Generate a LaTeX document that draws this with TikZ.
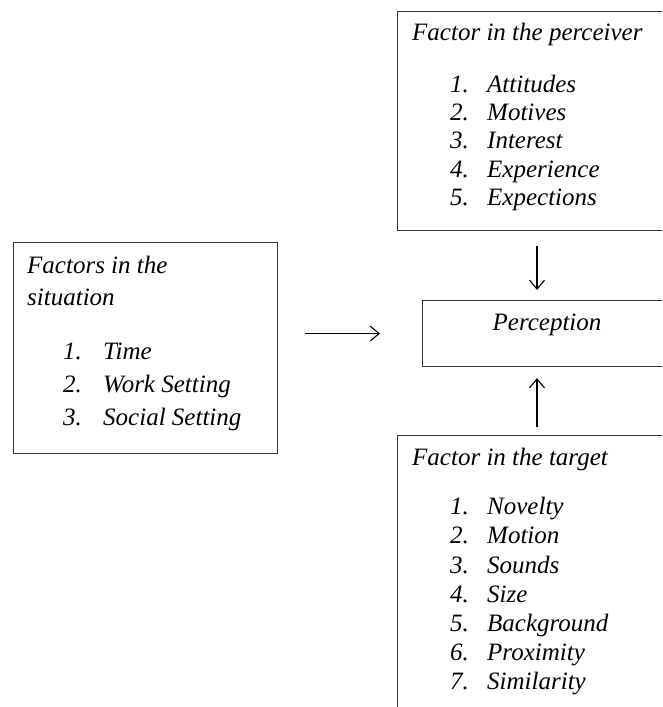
\documentclass[tikz,border=0pt]{standalone}
\usepackage{fontspec}
\setmainfont{Liberation Serif}
\usetikzlibrary{arrows.meta}
\begin{document}
\begin{tikzpicture}[x=1pt,y=-1pt,
  box/.style={draw=black!80,line width=1.1pt,rectangle,anchor=north west,inner sep=0pt},
  txt/.style={anchor=base west,inner sep=0pt,font=\fontsize{25}{29}\selectfont\itshape},
  arr/.style={draw=black,line width=1.1pt,-{Straight Barb[length=9pt,width=15pt,line width=1.1pt]}}]
\useasboundingbox (0,0) rectangle (662,707);
\clip (0,0) rectangle (662,707);
% boxes
\node[box,minimum width=290pt,minimum height=219pt] (perceiver) at (397,11) {};
\node[box,minimum width=264pt,minimum height=211pt] (situation) at (13,242) {};
\node[box,minimum width=260pt,minimum height=66pt] (perception) at (422,300) {};
\node[box,minimum width=290pt,minimum height=300pt] (target) at (397,435) {};
% perceiver text
\node[txt] (p0) at (412,40) {Factor in the perceiver};
\node[txt] (p1n) at (450,92) {1.}; \node[txt] (p1) at (487,92) {Attitudes};
\node[txt] (p2n) at (450,120) {2.}; \node[txt] (p2) at (487,120) {Motives};
\node[txt] (p3n) at (450,148) {3.}; \node[txt] (p3) at (487,148) {Interest};
\node[txt] (p4n) at (450,177) {4.}; \node[txt] (p4) at (487,177) {Experience};
\node[txt] (p5n) at (450,205) {5.}; \node[txt] (p5) at (487,205) {Expections};
% situation text
\node[txt] (s0) at (27,273) {Factors in the};
\node[txt] (s0b) at (27,305) {situation};
\node[txt] (s1n) at (63,359) {1.}; \node[txt] (s1) at (103,359) {Time};
\node[txt] (s2n) at (63,392) {2.}; \node[txt] (s2) at (103,392) {Work Setting};
\node[txt] (s3n) at (63,425) {3.}; \node[txt] (s3) at (103,425) {Social Setting};
% perception text
\node[txt,anchor=base] (pc) at (547,330) {Perception};
% target text
\node[txt] (t0) at (412,465) {Factor in the target};
\node[txt] (t1n) at (450,514) {1.}; \node[txt] (t1) at (487,514) {Novelty};
\node[txt] (t2n) at (450,543) {2.}; \node[txt] (t2) at (487,543) {Motion};
\node[txt] (t3n) at (450,573) {3.}; \node[txt] (t3) at (487,573) {Sounds};
\node[txt] (t4n) at (450,602) {4.}; \node[txt] (t4) at (487,602) {Size};
\node[txt] (t5n) at (450,631) {5.}; \node[txt] (t5) at (487,631) {Background};
\node[txt] (t6n) at (450,660) {6.}; \node[txt] (t6) at (487,660) {Proximity};
\node[txt] (t7n) at (450,689) {7.}; \node[txt] (t7) at (487,689) {Similarity};
% arrows
\coordinate (ax) at (537,0);
\draw[arr] ([yshift=-15pt]perceiver.south -| ax) -- ([yshift=10pt]perception.north -| ax);
\draw[arr] ([yshift=8pt]target.north -| ax) -- ([yshift=-11pt]perception.south -| ax);
\draw[arr] ([xshift=27pt]situation.east |- perception.west) -- ([xshift=-42pt]perception.west);
\end{tikzpicture}
\end{document}
